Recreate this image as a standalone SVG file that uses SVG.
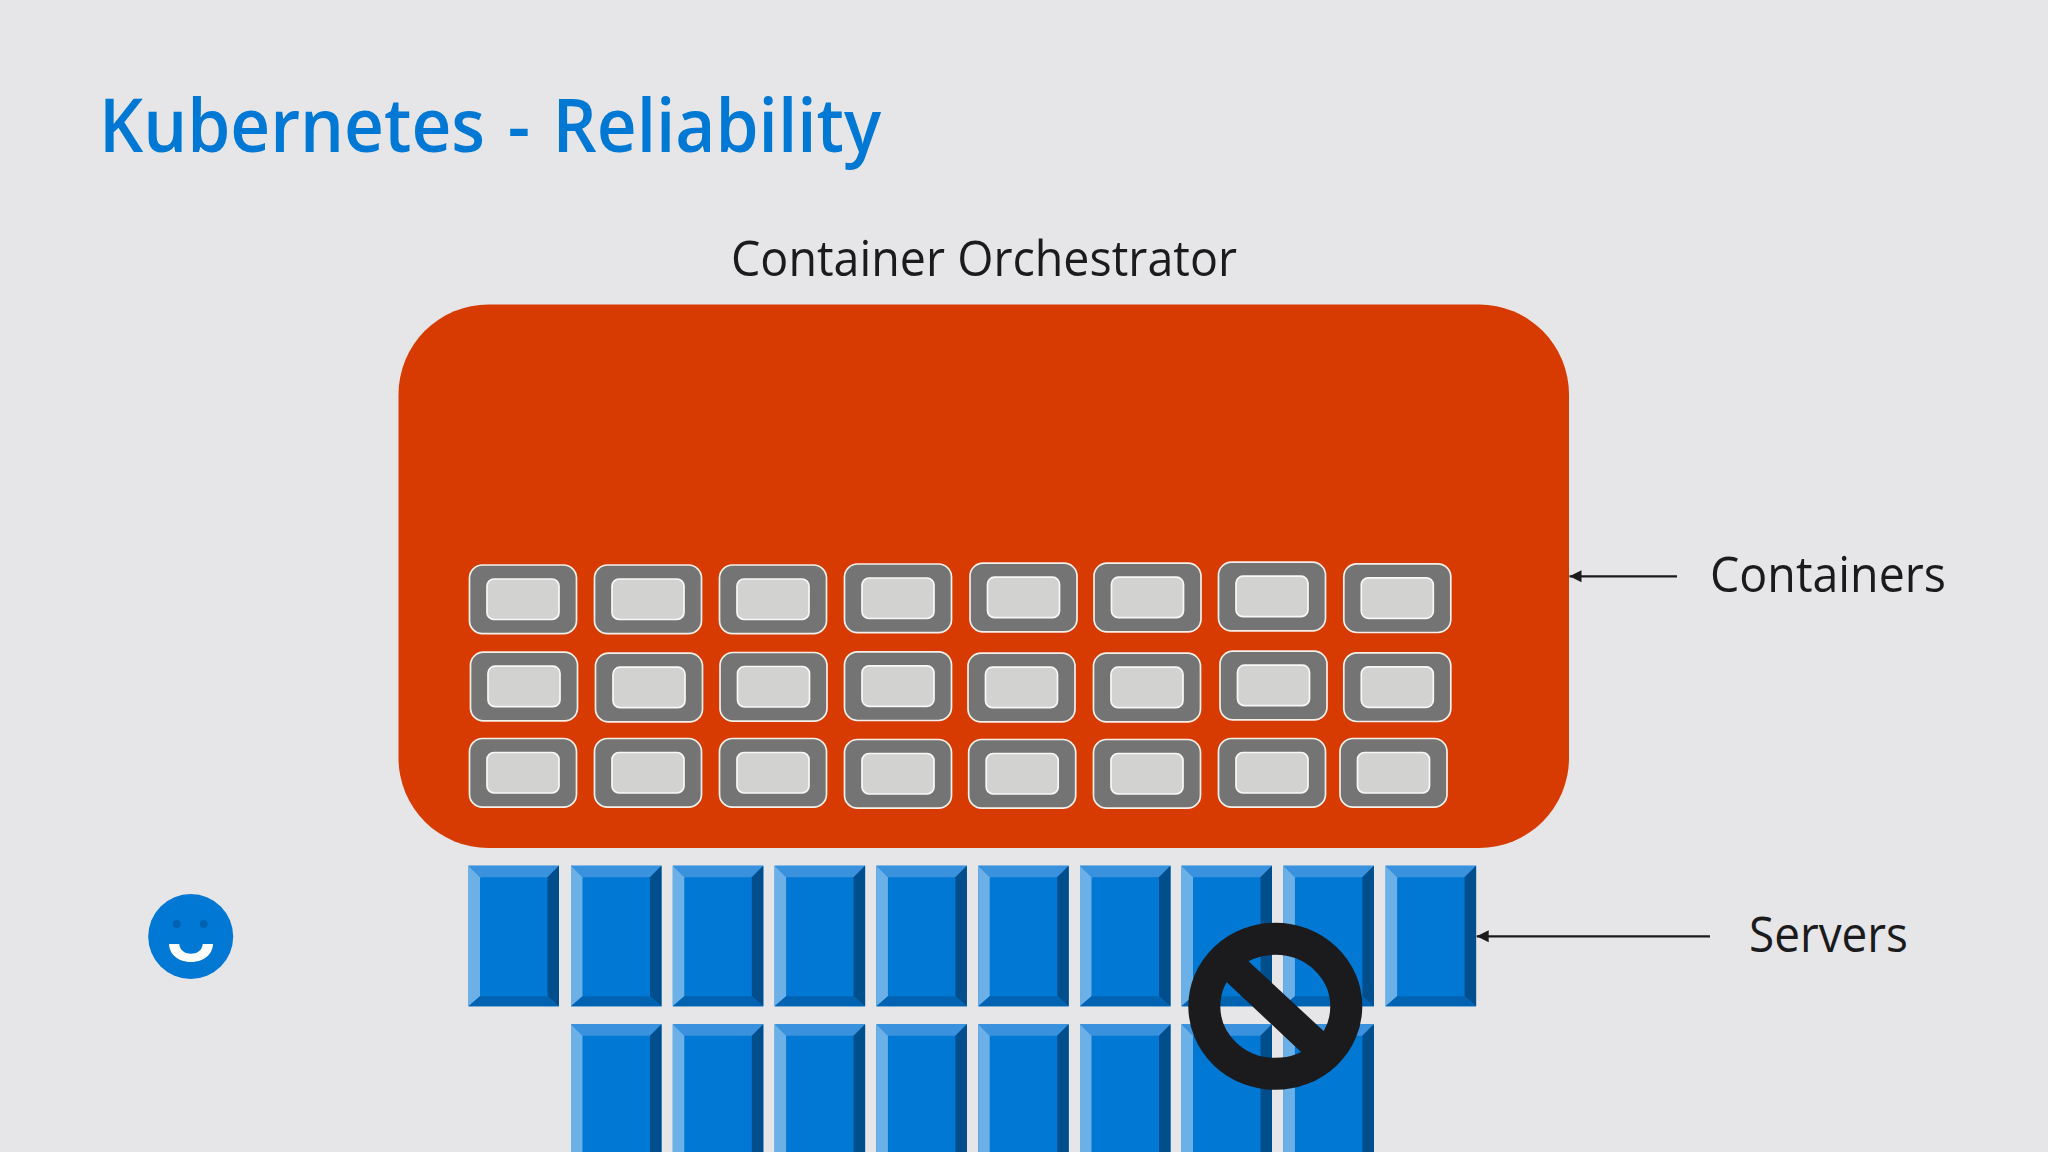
<svg xmlns="http://www.w3.org/2000/svg" xmlns:xlink="http://www.w3.org/1999/xlink" width="2048" height="1152" viewBox="0 0 2048 1152">
<style>
.t{font-family:"Open Sans","Noto Sans","Liberation Sans",sans-serif;fill:#1b1b1d}
.title{font-size:75px;font-weight:600;fill:#0078d4;word-spacing:5px}
.lbl{font-size:50px}
.outer{fill:#747474;stroke:#f6f0ea;stroke-width:1.700}
.inner{fill:#d2d2d0;stroke:#f8f8f8;stroke-width:1.700}
.conn{stroke:#1b1b1d;stroke-width:2.200;fill:none;marker-end:url(#arr)}
</style>
<defs>
<marker id="arr" markerUnits="userSpaceOnUse" markerWidth="14" markerHeight="14" refX="13" refY="7" orient="auto"><path d="M13 7L1 1V13Z" fill="#1b1b1d"/></marker>
<g id="ctr"><rect class="outer" x="0.500" y="0.500" width="107" height="68.700" rx="13"/><rect class="inner" x="18" y="14.500" width="72" height="40.500" rx="7"/></g>
<g id="srv"><rect width="90.500" height="140.600" fill="#0078d4"/><path d="M0 0H90.500L79 11.500H11.500Z" fill="#3a92de"/><path d="M0 0L11.500 11.500V130.600L0 140.600Z" fill="#6cb0e8"/><path d="M90.500 0V140.600L79 130.600V11.500Z" fill="#004e8c"/><path d="M0 140.600L11.500 130.600H79L90.500 140.600Z" fill="#0063b1"/></g>
</defs>
<rect width="2048" height="1152" fill="#e6e6e8"/>
<text class="t title" x="99" y="152" textLength="782" lengthAdjust="spacingAndGlyphs">Kubernetes - Reliability</text>
<text class="t lbl" x="731" y="276" textLength="506" lengthAdjust="spacingAndGlyphs">Container Orchestrator</text>
<text class="t lbl" x="1710" y="592" textLength="236" lengthAdjust="spacingAndGlyphs">Containers</text>
<text class="t lbl" x="1749" y="952" textLength="159" lengthAdjust="spacingAndGlyphs">Servers</text>
<g id="orchestrator"><rect x="398.500" y="304.500" width="1170.500" height="543.500" rx="90" fill="#d83b01"/></g>
<g id="containers">
<use id="c11" href="#ctr" x="469" y="564.500"/><use id="c12" href="#ctr" x="594" y="564.500"/><use id="c13" href="#ctr" x="719" y="564.500"/><use id="c14" href="#ctr" x="844" y="563.500"/><use id="c15" href="#ctr" x="969.500" y="562.700"/><use id="c16" href="#ctr" x="1093.500" y="562.700"/><use id="c17" href="#ctr" x="1218" y="561.700"/><use id="c18" href="#ctr" x="1343.300" y="563.300"/>
<use id="c21" href="#ctr" x="470" y="651.700"/><use id="c22" href="#ctr" x="595" y="652.700"/><use id="c23" href="#ctr" x="719.500" y="652"/><use id="c24" href="#ctr" x="844" y="651.300"/><use id="c25" href="#ctr" x="967.500" y="652.700"/><use id="c26" href="#ctr" x="1093" y="652.700"/><use id="c27" href="#ctr" x="1219.500" y="650.700"/><use id="c28" href="#ctr" x="1343.300" y="652.300"/>
<use id="c31" href="#ctr" x="469" y="738"/><use id="c32" href="#ctr" x="594" y="738"/><use id="c33" href="#ctr" x="719" y="738"/><use id="c34" href="#ctr" x="844" y="739"/><use id="c35" href="#ctr" x="968.200" y="739"/><use id="c36" href="#ctr" x="1093" y="739"/><use id="c37" href="#ctr" x="1218" y="738"/><use id="c38" href="#ctr" x="1339.500" y="738"/>
</g>
<g id="servers">
<use id="s11" href="#srv" x="468.500" y="865.700"/><use id="s12" href="#srv" x="571" y="865.700"/><use id="s13" href="#srv" x="672.800" y="865.700"/><use id="s14" href="#srv" x="774.600" y="865.700"/><use id="s15" href="#srv" x="876.400" y="865.700"/><use id="s16" href="#srv" x="978.200" y="865.700"/><use id="s17" href="#srv" x="1080" y="865.700"/><use id="s18" href="#srv" x="1181.500" y="865.700"/><use id="s19" href="#srv" x="1283.400" y="865.700"/><use id="s110" href="#srv" x="1385.600" y="865.700"/>
<use id="s22" href="#srv" x="571" y="1024.300"/><use id="s23" href="#srv" x="672.800" y="1024.300"/><use id="s24" href="#srv" x="774.600" y="1024.300"/><use id="s25" href="#srv" x="876.400" y="1024.300"/><use id="s26" href="#srv" x="978.200" y="1024.300"/><use id="s27" href="#srv" x="1080" y="1024.300"/><use id="s28" href="#srv" x="1181.500" y="1024.300"/><use id="s29" href="#srv" x="1283.400" y="1024.300"/>
</g>
<g id="no-symbol"><ellipse cx="1275.300" cy="1006.300" rx="71" ry="67.500" fill="none" stroke="#1b1b1d" stroke-width="32"/><path d="M1241.700 954.900L1331.600 1038.500L1309 1059.500L1219 974.900Z" fill="#1b1b1d"/></g>
<g id="smiley"><circle cx="190.700" cy="936.500" r="42.500" fill="#0078d4"/><circle cx="176.700" cy="924" r="4" fill="#0063b1"/><circle cx="203.700" cy="924" r="4" fill="#0063b1"/><path d="M169 944H179.300C180 957 202 957 202.700 944H213C212 968 170 968 169 944Z" fill="#fff"/></g>
<g id="connectors">
<line class="conn" x1="1677" y1="576.300" x2="1569.500" y2="576.300"/>
<line class="conn" x1="1710" y1="936.300" x2="1476.700" y2="936.300"/>
</g>
</svg>
